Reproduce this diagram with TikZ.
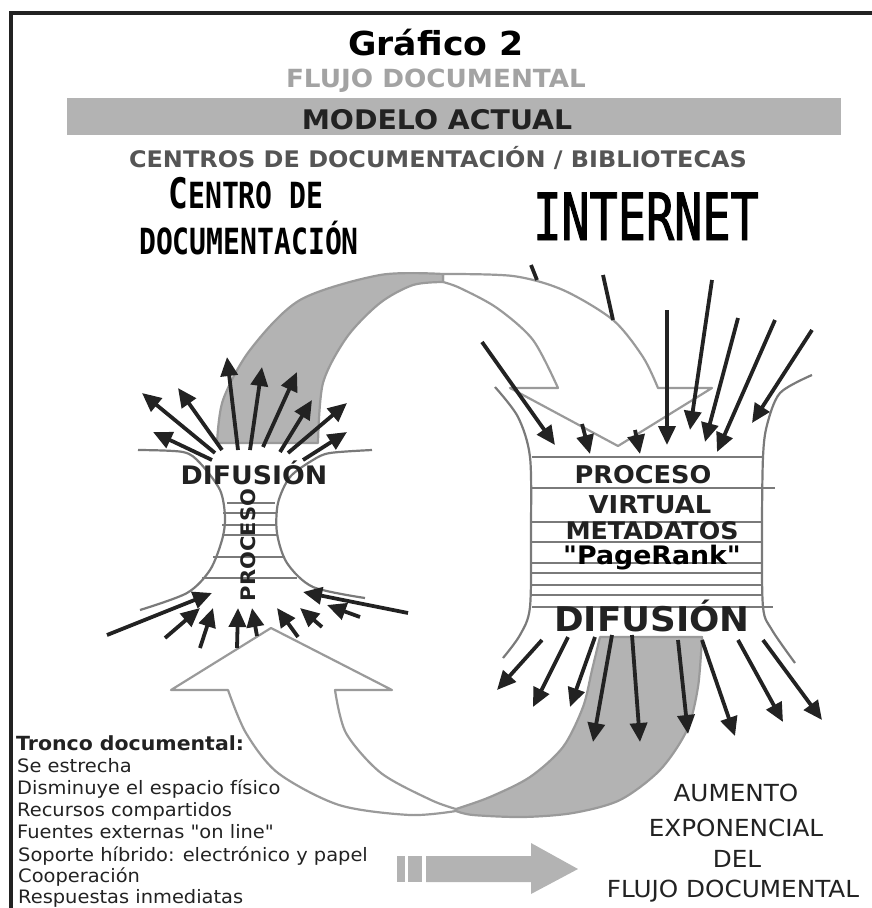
\documentclass[tikz,border=0pt]{standalone}
\usepackage{fontspec}
\newfontfamily\verd[FakeStretch=1.05]{DejaVu Sans}
\newfontfamily\mano[FakeStretch=0.78]{DejaVu Sans Mono}
\newfontfamily\manoest[FakeStretch=0.72,FakeBold=1.5]{DejaVu Sans Mono}
\usetikzlibrary{arrows.meta}
\definecolor{tinta}{HTML}{222222}
\definecolor{borde}{HTML}{9A9A9A}
\definecolor{banda}{HTML}{B3B3B3}
\definecolor{linea}{HTML}{7A7A7A}
\definecolor{grisclaro}{HTML}{A3A3A3}
\definecolor{grisoscuro}{HTML}{555555}
\begin{document}
\begin{tikzpicture}[x=1pt,y=-1pt,
  flecha/.style={draw=tinta,line width=3.8pt,-{Triangle[length=19pt,width=17pt]}},
  raya/.style={draw=tinta,line width=3.8pt},
  embudo/.style={draw=linea,line width=2.2pt},
  peldano/.style={draw=linea,line width=2.6pt},
  cinta/.style={draw=borde,line width=2.2pt,fill=white,line join=round},
  cintagris/.style={draw=borde,line width=2.2pt,fill=banda,line join=round},
  texto/.style={anchor=base,inner sep=0pt}]
\useasboundingbox (0,0) rectangle (872,908);
\draw[line width=4pt,tinta] (11,908) -- (11,13) -- (872,13);
\node[texto] (grafico) at (436,55) {\verd\bfseries\fontsize{33}{34}\selectfont Gráfico 2};
\node[texto,text=grisclaro] (flujo) at (436,87) {\verd\bfseries\fontsize{25}{26}\selectfont FLUJO DOCUMENTAL};
\fill[banda] (67,98) rectangle (841,135);
\node[texto,text=tinta] (modelo) at (437,129) {\verd\bfseries\fontsize{27}{28}\selectfont MODELO ACTUAL};
\node[texto,text=grisoscuro] (centros) at (438,167) {\verd\bfseries\fontsize{22.8}{24}\selectfont CENTROS DE DOCUMENTACIÓN / BIBLIOTECAS};
\node[texto] (centro) at (246,208) {\mano\bfseries\fontsize{42}{44}\selectfont C\fontsize{36}{44}\selectfont ENTRO DE};
\node[texto] (docu) at (249,254) {\mano\bfseries\fontsize{36}{40}\selectfont DOCUMENTACIÓN};
\node[texto] (internet) at (646,240) {\manoest\fontsize{65}{70}\selectfont INTERNET};
\filldraw[cinta] plot[smooth] coordinates {(443,274) (513,276) (563,290) (613,320) (643,357) (658,388)} -- (712,388) -- (618,446) -- (510,388) -- (558,388) -- plot[smooth] coordinates {(558,388) (533,340) (497,308) (460,288) (443,282)} -- cycle;
\filldraw[cintagris] plot[smooth] coordinates {(217,443) (223,400) (250,350) (300,300) (380,275) (443,274)} -- (443,282) -- plot[smooth] coordinates {(443,282) (413,285) (380,303) (347,337) (323,383) (318,443)} -- cycle;
\filldraw[cinta] plot[smooth] coordinates {(456,811) (410,815) (339,805) (278,773) (246,733) (228,690)} -- (171,690) -- (271,628) -- (392,690) -- (335,690) -- plot[smooth] coordinates {(335,690) (346,733) (381,773) (431,800) (456,809)} -- cycle;
\filldraw[cintagris] (600,637) -- (702,637) -- plot[smooth] coordinates {(702,637) (698,687) (687,730) (660,770) (620,800) (573,813) (523,817) (473,815) (456,811)} -- plot[smooth] coordinates {(456,809) (490,797) (530,777) (563,747) (583,707) (592,670) (600,637)} -- cycle;
\draw[embudo] plot[smooth] coordinates {(138,450) (183,452) (200,463) (220,490) (225,517) (222,540) (210,570) (187,593) (140,610)};
\draw[embudo] plot[smooth] coordinates {(372,450) (330,453) (313,460) (290,477) (278,503) (277,533) (287,563) (313,587) (365,598)};
\draw[peldano] (227,503) -- (275,503);
\draw[peldano] (223,513) -- (277,513);
\draw[peldano] (222,525) -- (277,525);
\draw[peldano] (222,535) -- (278,535);
\draw[peldano] (213,557) -- (285,557);
\draw[peldano] (202,578) -- (297,578);
\node[texto,text=tinta] (difizq) at (254,484) {\verd\bfseries\fontsize{25.5}{27}\selectfont DIFUSIÓN};
\node[inner sep=0pt,rotate=90,text=tinta] (procizq) at (248,545) {\verd\bfseries\fontsize{20}{21}\selectfont PROCESO};
\draw[embudo] plot[smooth] coordinates {(495,387) (518,417) (530,457) (531,530) (530,607) (520,635) (503,658)};
\draw[embudo] plot[smooth] coordinates {(812,375) (780,393) (767,425) (763,457) (762,530) (763,607) (772,630) (795,663)};
\draw[peldano] (532,457) -- (763,457);
\draw[peldano] (532,488) -- (775,488);
\draw[peldano] (532,522) -- (763,522);
\draw[peldano] (532,542) -- (763,542);
\draw[peldano] (532,563) -- (763,563);
\draw[peldano] (532,573) -- (763,573);
\draw[peldano] (532,585) -- (763,585);
\draw[peldano] (532,595) -- (763,595);
\draw[peldano] (532,607) -- (773,607);
\node[texto,text=tinta] (proceso) at (643,483) {\verd\bfseries\fontsize{24.4}{26}\selectfont PROCESO};
\node[texto,text=tinta] (virtual) at (650,513) {\verd\bfseries\fontsize{24.6}{26}\selectfont VIRTUAL};
\node[texto,text=tinta] (metadatos) at (652,539) {\verd\bfseries\fontsize{24.1}{26}\selectfont METADATOS};
\node[texto,text=black] (pagerank) at (652,564) {\verd\bfseries\fontsize{25.5}{26}\selectfont "PageRank"};
\node[texto,text=tinta] (difder) at (652,631) {\verd\bfseries\fontsize{34}{36}\selectfont DIFUSIÓN};
\draw[flecha] (215,453) -- (142,393);
\draw[flecha] (212,460) -- (153,432);
\draw[flecha] (222,450) -- (178,388);
\draw[flecha] (238,450) -- (227,357);
\draw[flecha] (250,450) -- (262,367);
\draw[flecha] (263,447) -- (297,372);
\draw[flecha] (280,452) -- (312,400);
\draw[flecha] (288,453) -- (347,403);
\draw[flecha] (303,460) -- (347,432);
\draw[flecha] (107,635) -- (212,593);
\draw[flecha] (165,638) -- (200,608);
\draw[flecha] (200,648) -- (213,608);
\draw[flecha] (237,648) -- (238,608);
\draw[flecha] (257,636) -- (252,608);
\draw[flecha] (298,637) -- (277,608);
\draw[flecha] (322,627) -- (300,608);
\draw[flecha] (360,617) -- (327,605);
\draw[flecha] (408,613) -- (303,592);
\draw[raya] (531,265) -- (537,280);
\draw[raya] (603,275) -- (613,320);
\draw[flecha] (482,342) -- (555,445);
\draw[flecha] (582,424) -- (590,454);
\draw[flecha] (635,430) -- (640,454);
\draw[flecha] (667,310) -- (667,445);
\draw[flecha] (712,280) -- (690,430);
\draw[flecha] (738,318) -- (705,442);
\draw[flecha] (775,320) -- (717,452);
\draw[flecha] (812,330) -- (752,423);
\draw[flecha] (542,640) -- (497,690);
\draw[flecha] (568,637) -- (533,707);
\draw[flecha] (595,637) -- (570,707);
\draw[flecha] (612,635) -- (593,742);
\draw[flecha] (632,635) -- (640,742);
\draw[flecha] (678,640) -- (688,734);
\draw[flecha] (702,640) -- (735,736);
\draw[flecha] (738,640) -- (783,722);
\draw[flecha] (763,640) -- (822,720);
\fill[banda] (397,856) rectangle (405,882);
\fill[banda] (408,856) rectangle (422,882);
\fill[banda] (426,856) -- (531,856) -- (531,843) -- (578,869) -- (531,894) -- (531,882) -- (426,882) -- cycle;
\node[texto,anchor=base west,text=tinta] (tronco) at (16,750) {\verd\bfseries\fontsize{19.5}{21}\selectfont Tronco documental:};
\node[texto,anchor=base west,text=tinta] (estrecha) at (17,772) {\verd\fontsize{18.5}{20}\selectfont Se estrecha};
\node[texto,anchor=base west,text=tinta] (espacio) at (17,794) {\verd\fontsize{18.5}{20}\selectfont Disminuye el espacio físico};
\node[texto,anchor=base west,text=tinta] (recursos) at (17,816) {\verd\fontsize{18.5}{20}\selectfont Recursos compartidos};
\node[texto,anchor=base west,text=tinta] (fuentes) at (17,838) {\verd\fontsize{18.5}{20}\selectfont Fuentes externas "on line"};
\node[texto,anchor=base west,text=tinta] (soporte) at (18,861) {\verd\fontsize{18.5}{20}\selectfont Soporte híbrido: electrónico y papel};
\node[texto,anchor=base west,text=tinta] (coop) at (18,882) {\verd\fontsize{18.5}{20}\selectfont Cooperación};
\node[texto,anchor=base west,text=tinta] (respuestas) at (18,903) {\verd\fontsize{18.5}{20}\selectfont Respuestas inmediatas};
\node[texto,text=tinta] (aumento) at (736,801) {\verd\fontsize{23.5}{25}\selectfont AUMENTO};
\node[texto,text=tinta] (expo) at (736,836) {\verd\fontsize{23.5}{25}\selectfont EXPONENCIAL};
\node[texto,text=tinta] (del) at (737,867) {\verd\fontsize{23.5}{25}\selectfont DEL};
\node[texto,text=tinta] (flujodoc) at (733,897) {\verd\fontsize{23.5}{25}\selectfont FLUJO DOCUMENTAL};
\end{tikzpicture}
\end{document}
